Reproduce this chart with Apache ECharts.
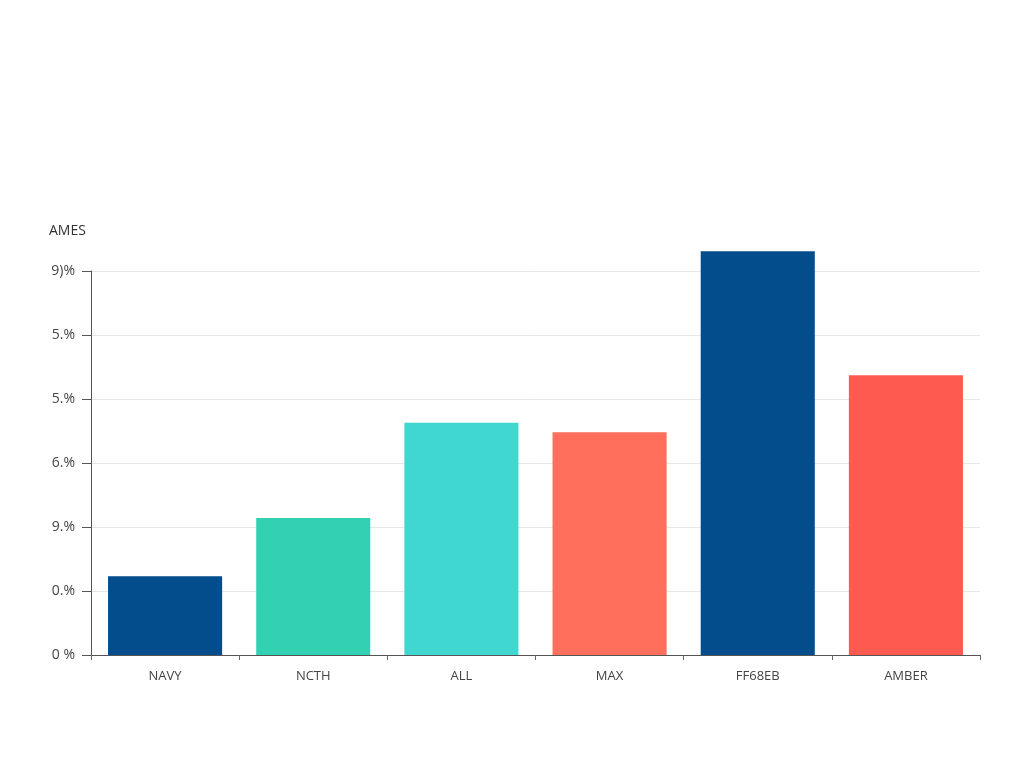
<!DOCTYPE html>
<html>
<head>
<meta charset="utf-8">
<script src="https://cdn.jsdelivr.net/npm/echarts@6/dist/echarts.min.js"></script>
<style>html,body{margin:0;padding:0;background:#fff}#c{width:1024px;height:768px}</style>
</head>
<body>
<div id="c"></div>
<script>
var categories = ["NAVY", "NCTH", "ALL", "MAX", "FF68EB", "AMBER"];
var values = [1.23, 2.14, 3.63, 3.48, 6.31, 4.37];
var barColors = ["#034d8c", "#33d1b3", "#40d7d0", "#ff6f5b", "#034d8c", "#ff5a50"];
var yTickLabels = ["0 %", "0.%", "9.%", "6.%", "5.%", "5.%", "9)%"];
var yAxisTitle = "AMES";

var chart = echarts.init(document.getElementById('c'));
chart.setOption({
  backgroundColor: '#ffffff',
  animation: false,
  title: {
    text: yAxisTitle, left: 44, top: 219,
    textStyle: { fontFamily: 'Open Sans', fontSize: 14, fontWeight: 'normal', color: '#333' }
  },
  grid: { left: 91, right: 44, top: 271, bottom: 113 },
  xAxis: {
    type: 'category',
    data: categories,
    axisLine: { lineStyle: { color: '#555', width: 1 } },
    axisTick: { show: true, length: 5, lineStyle: { color: '#666' } },
    axisLabel: { fontFamily: 'Open Sans', fontSize: 13, color: '#444', margin: 15 }
  },
  yAxis: {
    type: 'value', min: 0, max: 6, interval: 1,
    axisLine: { show: true, lineStyle: { color: '#555', width: 1 } },
    axisTick: { show: true, length: 9, lineStyle: { color: '#555' } },
    splitLine: { lineStyle: { color: '#e6e6e6' } },
    axisLabel: {
      fontFamily: 'Open Sans', fontSize: 14, color: '#444', margin: 16,
      formatter: function (v) { return yTickLabels[Math.round(v)] || ''; }
    }
  },
  series: [{
    type: 'bar',
    clip: false,
    barWidth: '77%',
    data: values.map(function (v, i) { return { value: v, itemStyle: { color: barColors[i] } }; })
  }]
});
</script>
</body>
</html>
